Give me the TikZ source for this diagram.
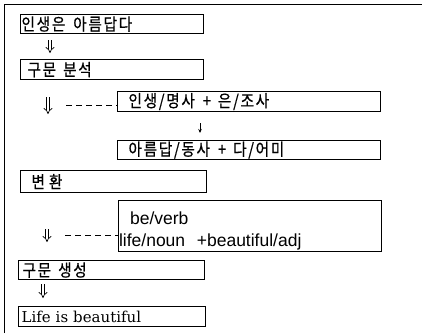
\documentclass[tikz,border=0pt]{standalone}
\usepackage{fontspec}
\setmainfont{Noto Sans CJK KR}[FakeBold=0.6, FakeStretch=0.86, LetterSpace=10]
\newfontfamily\enfont{Liberation Sans}
\newfontfamily\enserif{DejaVu Serif}
\newcommand\ksp[1]{\hspace{#1pt}}
\usetikzlibrary{arrows.meta}
\begin{document}
\begin{tikzpicture}[x=1pt,y=-1pt,
  box/.style={draw, line width=1.1pt, anchor=north west, inner ysep=0pt, align=left,
    font=\fontsize{17}{19}\selectfont},
  dbl/.style={double, double distance=2.4pt, line width=0.7pt, -{Implies}},
  sarrow/.style={line width=0.9pt, -{Stealth[length=4pt,width=3.5pt]}},
  dashline/.style={dashed, dash pattern=on 6pt off 4pt, line width=0.9pt},
  frame/.style={line width=1pt}]
\useasboundingbox (0,0) rectangle (422,333);
\draw[frame] (4,333) -- (4,4) -- (422,4);

\node[box, minimum height=19pt, inner xsep=1pt, text width=181pt] (b1) at (20,14) {인생은\ksp{8}아름답다};
\node[box, minimum height=20pt, inner xsep=7pt, text width=169pt] (b3) at (20,59) {구문\ksp{7}분석};
\node[box, minimum height=20pt, inner xsep=11pt, text width=241pt] (b5) at (117,91) {인생/명사\ksp{8}+\ksp{7}은/조사};
\node[box, minimum height=19pt, inner xsep=11pt, text width=241pt] (b7) at (117,140) {아름답/동사\ksp{8}+\ksp{7}다/어미};
\node[box, minimum height=22pt, inner xsep=11pt, text width=164pt] (b8) at (20,170) {변\ksp{4}환};
\node[box, minimum height=51pt, inner xsep=0.5pt, text width=262pt,
  font=\enfont\fontsize{17.5}{22}\selectfont] (b9) at (118,200)
  {\rule{0pt}{23pt}\hspace*{11pt}be/verb\\life/noun\ \ +beautiful/adj};
\node[box, minimum height=19pt, inner xsep=4pt, text width=178pt] (b11) at (18,260) {구문\ksp{7}생성};
\node[box, minimum height=20pt, inner xsep=3pt, text width=181pt,
  font=\enserif\fontsize{15}{18}\selectfont] (b13) at (18,306) {Life is beautiful};

\coordinate (a1) at (50,0);
\coordinate (a2) at (48,0);
\coordinate (a3) at (47,0);
\coordinate (a4) at (43,0);
\coordinate (s1) at (200,0);
\coordinate (d1) at (66,105);
\coordinate (d2) at (65,235);

\draw[dbl, shorten <=6pt, shorten >=6pt] (b1.south -| a1) -- (b3.north -| a1);
\draw[dbl, shorten <=17pt, shorten >=56pt] (b3.south -| a2) -- (b8.north -| a2);
\draw[dbl, shorten <=36pt, shorten >=18pt] (b8.south -| a3) -- (b11.north -| a3);
\draw[dbl, shorten <=4pt, shorten >=8pt] (b11.south -| a4) -- (b13.north -| a4);
\draw[sarrow, shorten <=11pt, shorten >=7pt] (b5.south -| s1) -- (b7.north -| s1);
\draw[dashline] (d1) -- (d1 -| b5.west);
\draw[dashline] (d2) -- (d2 -| b9.west);
\end{tikzpicture}
\end{document}
